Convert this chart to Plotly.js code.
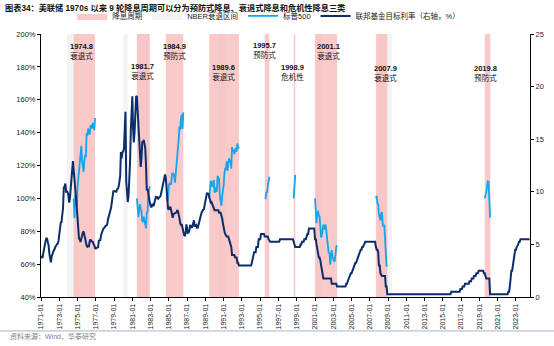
<!DOCTYPE html>
<html><head><meta charset="utf-8">
<script src="https://cdn.plot.ly/plotly-3.0.1.min.js"></script>
<style>html,body{margin:0;padding:0;background:#fff}#c{width:554px;height:346px}</style>
</head><body><div id="c"></div>
<script>
// ---- data ----
const cycleStart = ['1974-08','1981-07','1984-09','1989-06','1995-07','1998-09','2001-01','2007-09','2019-08'];
const cycleLabel = ['1974.8','1981.7','1984.9','1989.6','1995.7','1998.9','2001.1','2007.9','2019.8'];
const cycleType  = ['衰退式','衰退式','预防式','衰退式','预防式','危机性','衰退式','衰退式','预防式'];
const sp1974 = [100,88.1,102.4,97.0,95.0,106.7,113.1,115.5,121.0,126.3,131.9,123.0,120.4,116.2,123.4,126.5,125.0,139.8,138.2,142.4,140.9,138.8,144.5,143.4,142.6,145.9,142.6,141.5,148.9];
const sp1981 = [100,93.8,88.7,93.1,96.5,93.6,92.0,86.4,85.5,88.9,85.5,83.7,81.8,91.3,92.0,102.1,105.8,107.4];
const sp1984 = [100,100.0,98.5,100.7,108.1,109.1,108.8,108.3,114.1,115.5,114.9,113.6,109.6,114.3,121.7,127.2,127.5,136.6,143.8,141.8,148.9,151.0,142.2,152.3];
const sp1989 = [100,108.8,110.5,109.8,107.0,108.8,111.1,103.5,104.4,106.9,104.0,113.6,112.6,112.0,101.4,96.2,95.6,101.3,103.8,108.2,115.4,118.0,118.0,122.6,116.7,122.0,124.4,122.0,123.4,118.0,131.2,128.6,129.8,127.0,130.5,130.6,128.4,133.4,130.2,131.4];
const sp1995 = [100,100.0,104.0,103.5,107.7,109.6,113.2];
const sp1998 = [100,108.0,114.4];
const sp2001 = [100,90.8,84.9,91.5,91.9,89.6,88.7,83.0,76.2,77.6,83.4,84.0,82.7,81.0,84.0,78.8,78.1,72.5,66.7,67.1,59.7,64.8,68.5,64.4,62.6,61.6,62.1,67.1,70.5,71.3];
const sp2007 = [100,101.5,97.0,96.2,90.3,87.2,86.6,90.8,91.7,83.8,83.0,84.0,76.4,63.5,58.7,59.2];
const sp2019 = [100,101.7,103.8,107.3,110.4,110.2,100.9,88.3];
const spCycles = [sp1974,sp1981,sp1984,sp1989,sp1995,sp1998,sp2001,sp2007,sp2019];

const nberStart = ['1973-11','1980-01','1981-07','1990-07','2001-03','2007-12','2020-02'];
const nberEnd   = ['1975-03','1980-07','1982-11','1991-03','2001-11','2009-06','2020-04'];

const ffrStart = '1971-01';
const ffr1970s = [3.9,3.72,3.71,4.15,4.63,4.91,5.31,5.57,5.55,5.2,4.91,4.14,
 3.5,3.29,3.83,4.17,4.27,4.46,4.55,4.8,4.87,5.04,5.06,5.33,
 5.94,6.58,7.09,7.12,7.84,8.49,10.4,10.5,10.78,10.01,10.03,9.95,
 9.65,8.97,9.35,10.51,11.31,11.93,12.92,12.01,11.34,10.06,9.45,8.53,
 7.13,6.24,5.54,5.49,5.22,5.55,6.1,6.14,6.24,5.82,5.22,5.2,
 4.87,4.77,4.84,4.82,5.29,5.48,5.31,5.29,5.25,5.02,4.95,4.65,
 4.61,4.68,4.69,4.73,5.35,5.39,5.42,5.9,6.14,6.47,6.51,6.56,
 6.7,6.78,6.79,6.89,7.36,7.6,7.81,8.04,8.45,8.96,9.76,10.03,
 10.07,10.06,10.09,10.01,10.24,10.29,10.47,10.94,11.43,13.77,13.18,13.78];
const ffr1980s = [13.82,14.13,17.19,17.61,10.98,9.47,9.03,9.61,10.87,12.81,15.85,18.9,
 19.08,15.93,14.7,15.72,18.52,19.1,19.04,17.82,15.87,15.08,13.31,12.37,
 13.22,14.78,14.68,14.94,14.45,14.15,12.59,10.12,10.31,9.71,9.2,8.95,
 8.68,8.51,8.77,8.8,8.63,8.98,9.37,9.56,9.45,9.48,9.34,9.47,
 9.56,9.59,9.91,10.29,10.32,11.06,11.23,11.64,11.3,9.99,9.43,8.38,
 8.35,8.5,8.58,8.27,7.97,7.53,7.88,7.9,7.92,7.99,8.05,8.27,
 8.14,7.86,7.48,6.99,6.85,6.92,6.56,6.17,5.89,5.85,6.04,6.91,
 6.43,6.1,6.13,6.37,6.85,6.73,6.58,6.73,7.22,7.29,6.69,6.77,
 6.83,6.58,6.58,6.87,7.09,7.51,7.75,8.01,8.19,8.3,8.35,8.76,
 9.12,9.36,9.85,9.84,9.81,9.53,9.24,8.99,9.02,8.84,8.55,8.45];
const ffr1990s = [8.25,8.25,8.25,8.25,8.25,8.25,8,8,8,7.75,7.5,7,
 6.75,6.25,6,5.75,5.75,5.75,5.75,5.5,5.25,5,4.75,4,
 4,4,4,3.75,3.75,3.75,3.25,3.25,3,3,3,3,
 3,3,3,3,3,3,3,3,3,3,3,3,
 3,3.25,3.5,3.75,4.25,4.25,4.25,4.75,4.75,4.75,5.5,5.5,
 5.5,6,6,6,6,6,5.75,5.75,5.75,5.75,5.75,5.5,
 5.25,5.25,5.25,5.25,5.25,5.25,5.25,5.25,5.25,5.25,5.25,5.25,
 5.25,5.25,5.5,5.5,5.5,5.5,5.5,5.5,5.5,5.5,5.5,5.5,
 5.5,5.5,5.5,5.5,5.5,5.5,5.5,5.5,5.25,5,4.75,4.75,
 4.75,4.75,4.75,4.75,4.75,5,5,5.25,5.25,5.25,5.5,5.5];
const ffr2000s = [5.5,5.75,6,6,6.5,6.5,6.5,6.5,6.5,6.5,6.5,6.5,
 5.5,5.5,5,4.5,4,3.75,3.75,3.5,3,2.5,2,1.75,
 1.75,1.75,1.75,1.75,1.75,1.75,1.75,1.75,1.75,1.75,1.25,1.25,
 1.25,1.25,1.25,1.25,1.25,1,1,1,1,1,1,1,
 1,1,1,1,1,1.25,1.25,1.5,1.75,1.75,2,2.25,
 2.25,2.5,2.75,2.75,3,3.25,3.25,3.5,3.75,3.75,4,4.25,
 4.5,4.5,4.75,4.75,5,5.25,5.25,5.25,5.25,5.25,5.25,5.25,
 5.25,5.25,5.25,5.25,5.25,5.25,5.25,5.25,4.75,4.5,4.5,4.25,
 3,3,2.25,2,2,2,2,2,2,1,1,0.25,
 0.25,0.25,0.25,0.25,0.25,0.25,0.25,0.25,0.25,0.25,0.25,0.25];
const ffr2010s = [0.25,0.25,0.25,0.25,0.25,0.25,0.25,0.25,0.25,0.25,0.25,0.25,
 0.25,0.25,0.25,0.25,0.25,0.25,0.25,0.25,0.25,0.25,0.25,0.25,
 0.25,0.25,0.25,0.25,0.25,0.25,0.25,0.25,0.25,0.25,0.25,0.25,
 0.25,0.25,0.25,0.25,0.25,0.25,0.25,0.25,0.25,0.25,0.25,0.25,
 0.25,0.25,0.25,0.25,0.25,0.25,0.25,0.25,0.25,0.25,0.25,0.25,
 0.25,0.25,0.25,0.25,0.25,0.25,0.25,0.25,0.25,0.25,0.25,0.5,
 0.5,0.5,0.5,0.5,0.5,0.5,0.5,0.5,0.5,0.5,0.5,0.75,
 0.75,0.75,1,1,1,1.25,1.25,1.25,1.25,1.25,1.25,1.5,
 1.5,1.5,1.75,1.75,1.75,2,2,2,2.25,2.25,2.25,2.5,
 2.5,2.5,2.5,2.5,2.5,2.5,2.25,2.25,2,1.75,1.75,1.75];
const ffr2020s = [1.75,1.75,0.25,0.25,0.25,0.25,0.25,0.25,0.25,0.25,0.25,0.25,
 0.25,0.25,0.25,0.25,0.25,0.25,0.25,0.25,0.25,0.25,0.25,0.25,
 0.25,0.25,0.5,0.5,1,1.75,2.5,2.5,3.25,3.25,4,4.5,
 4.5,4.75,5,5,5.25,5.25,5.5,5.5,5.5,5.5,5.5,5.5,
 5.5,5.5,5.5,5.5,5.5,5.5,5.5];

// ---- helpers ----
function addMonths(ym, k){
  const [y,m] = ym.split('-').map(Number);
  const t = (y*12 + (m-1)) + k;
  const yy = Math.floor(t/12), mm = t%12 + 1;
  return yy + '-' + String(mm).padStart(2,'0') + '-01';
}

// ---- traces ----
const YLO = 40, YHI = 200;
const pinkX = [], pinkY = [];
cycleStart.forEach((s,i)=>{
  const a = addMonths(s,0), b = addMonths(s, spCycles[i].length-1);
  pinkX.push(a,a,b,b,null); pinkY.push(YLO,YHI,YHI,YLO,null);
});
const greyX = [], greyY = [];
nberStart.forEach((s,i)=>{
  const a = addMonths(s,0), b = addMonths(nberEnd[i],0);
  greyX.push(a,a,b,b,null); greyY.push(YLO,YHI,YHI,YLO,null);
});
const spX = [], spY = [];
cycleStart.forEach((s,i)=>{
  spCycles[i].forEach((v,k)=>{ spX.push(addMonths(s,k)); spY.push(v); });
  spX.push(null); spY.push(null);
});
const ffr = [].concat(ffr1970s, ffr1980s, ffr1990s, ffr2000s, ffr2010s, ffr2020s);
const ffrX = ffr.map((v,k)=>addMonths(ffrStart,k));

const FONT = 'Liberation Sans, Arial, Noto Sans CJK SC, sans-serif';
const traces = [
  {type:'scatter', mode:'lines', x:greyX, y:greyY, fill:'toself', fillcolor:'#f3f3f3',
   line:{width:0,color:'rgba(0,0,0,0)'}, name:'NBER衰退区间', legendrank:2, hoverinfo:'skip'},
  {type:'scatter', mode:'lines', x:pinkX, y:pinkY, fill:'toself', fillcolor:'rgba(248,178,178,0.7)',
   line:{width:0,color:'rgba(0,0,0,0)'}, name:'降息周期', legendrank:1, hoverinfo:'skip'},
  {type:'scatter', mode:'lines', x:spX, y:spY, connectgaps:false, name:'标普500', legendrank:3,
   line:{color:'#14a5ec', width:1.8}},
  {type:'scatter', mode:'lines', x:ffrX, y:ffr, yaxis:'y2', name:'联邦基金目标利率（右轴，%）', legendrank:4,
   line:{color:'#0c2d6b', width:2}}
];

const labelX = ['1975-06-20','1982-02-20','1985-08-15','1990-12-28','1995-06-05','1998-06-25','2002-07-01','2008-09-20','2019-08-20'];
const labelY = [189.1,177.3,189.1,176.8,190.1,176.3,189.6,175.7,175.7];
const annotations = cycleLabel.map((t,i)=>({
  x:labelX[i], y:labelY[i], xref:'x', yref:'y', showarrow:false,
  text:'<b>'+t+'</b><br>'+cycleType[i], align:'center',
  font:{family:FONT, size:7.5, color:'#111'}
}));
annotations.push({xref:'paper', yref:'paper', x:-0.078, y:1.099, xanchor:'left', yanchor:'middle', showarrow:false,
  text:'<b>图表34：美联储 1970s 以来 9 轮降息周期可以分为预防式降息、衰退式降息和危机性降息三类</b>',
  font:{family:FONT, size:8.2, color:'#111'}});
annotations.push({xref:'paper', yref:'paper', x:-0.068, y:-0.152, xanchor:'left', yanchor:'middle', showarrow:false,
  text:'资料来源：Wind，华泰研究', font:{family:FONT, size:7, color:'#808080'}});

const layout = {
  width:554, height:346, margin:{l:41, r:24, t:34, b:49, autoexpand:false},
  paper_bgcolor:'#fff', plot_bgcolor:'#fff',
  font:{family:FONT, size:7.5, color:'#222'},
  showlegend:true,
  legend:{orientation:'h', xref:'container', yref:'container', x:0.485, xanchor:'center', y:0.954, yanchor:'middle',
    font:{family:FONT, size:7.5, color:'#222'}, bgcolor:'rgba(0,0,0,0)', itemwidth:30, tracegroupgap:0},
  xaxis:{type:'date', range:['1971-01-01','2024-07-15'], tick0:'1971-01-01', dtick:'M24', tickformat:'%Y-%m',
    tickangle:-90, ticks:'outside', ticklen:3, tickcolor:'#000', showline:true, linecolor:'#000', linewidth:1,
    showgrid:false, zeroline:false, tickfont:{size:7, color:'#222'}},
  yaxis:{range:[40,200], dtick:20, ticksuffix:'%', ticks:'outside', ticklen:3, tickcolor:'#000',
    showline:true, linecolor:'#000', linewidth:1, showgrid:false, zeroline:false, tickfont:{size:7.5, color:'#222'}},
  yaxis2:{range:[0,25], dtick:5, overlaying:'y', side:'right', ticks:'outside', ticklen:3, tickcolor:'#000',
    showline:true, linecolor:'#000', linewidth:1, showgrid:false, zeroline:false, tickfont:{size:7.5, color:'#222'}},
  annotations:annotations,
  shapes:[{type:'line', xref:'paper', yref:'paper', x0:-0.084, x1:1.05, y0:-0.129, y1:-0.129,
    line:{color:'#9fb3cf', width:1}}]
};
Plotly.newPlot('c', traces, layout, {staticPlot:true, displayModeBar:false});
</script></body></html>
